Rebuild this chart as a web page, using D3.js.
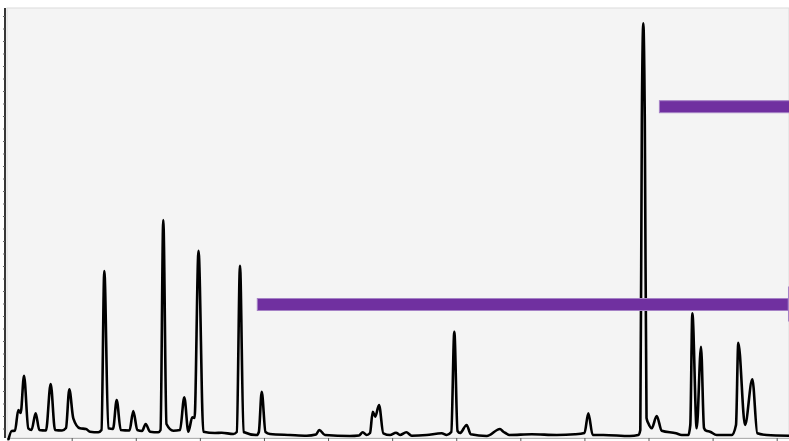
<!DOCTYPE html>
<html>
<head>
<meta charset="utf-8">
<script src="https://cdn.jsdelivr.net/npm/d3@7"></script>
<style>
  body { margin: 0; background: #fff; }
  svg { display: block; }
</style>
</head>
<body>
<div id="chart"></div>
<script>
// Data (retention time in min, detector signal)
const times = [
  0.011, 0.064, 0.115, 0.167, 0.204, 0.256, 0.323, 0.373, 0.438, 0.495,
  0.599, 0.672, 0.740, 0.849, 0.911, 0.963, 1.025, 1.130, 1.223, 1.286,
  1.415, 1.465, 1.509, 1.571, 1.645, 1.702, 1.765, 1.902, 1.961, 2.024,
  2.097, 2.155, 2.222, 2.351, 2.386, 2.429, 2.479, 2.585, 2.690, 2.757,
  2.820, 2.882, 2.917, 2.979, 3.054, 3.236, 3.341, 3.522, 3.576, 3.626,
  3.681, 3.887, 3.920, 3.965, 4.024, 4.094, 4.406, 4.667, 4.812, 4.863,
  4.952, 5.342, 5.483, 5.541, 5.603, 5.655, 5.697, 5.737, 5.795, 5.862,
  5.967, 6.060, 6.123, 6.221, 6.305, 6.539, 6.773, 6.851, 6.923, 6.970,
  7.020, 7.059, 7.163, 7.226, 7.476, 7.683, 7.730, 7.777, 7.828, 8.178,
  8.568, 8.853, 9.001, 9.061, 9.129, 9.295, 9.711, 9.841, 9.872, 9.896,
  9.919, 9.942, 9.969, 9.997, 10.050, 10.128, 10.206, 10.429, 10.518, 10.621,
  10.652, 10.684, 10.752, 10.819, 10.866, 10.897, 10.960, 11.064, 11.298, 11.365,
  11.401, 11.506, 11.620, 11.698, 11.845, 12.192
];
const signal = [
  1, 10, 10.3, 31, 28, 65.3, 12.7, 11, 27.7, 11,
  10.5, 57, 11, 10.5, 13, 51.7, 22.7, 12.7, 12, 9.3,
  8.7, 11, 170, 12.7, 12, 41, 11, 10.5, 30, 11,
  10, 17, 9.3, 8.7, 11, 221, 17, 10.3, 11, 43.7,
  9.3, 23.7, 23, 190.3, 9.3, 8, 8.3, 7, 9, 175.3,
  9, 6, 9, 49.3, 9, 7, 6, 5.3, 6.5, 11,
  6, 5, 5.5, 8.7, 6, 8, 29.3, 24.3, 36, 7.7,
  6, 8.3, 6, 8.7, 5.3, 6, 7.7, 6, 9, 109.3,
  10, 8, 16, 6.7, 5, 12, 9.5, 7.7, 6, 6.7,
  6, 6.7, 8, 27.7, 6, 6, 5, 6, 11, 321,
  417.7, 321, 23, 17.7, 12.7, 25, 10.3, 7.7, 6, 6,
  16, 127.7, 12.7, 94.3, 13, 10.3, 9.3, 6, 6, 16,
  98.3, 16, 61.7, 7.7, 6, 5.3
];

// collected fraction windows
const fracStart = [10.17, 3.896];
const fracEnd   = [12.40, 12.18];
const fracLevel = [334.3, 136.5];

const xTicks = d3.range(0, 13);
const yTicks = d3.range(1, 35).map(k => k * 12.5);

const W = 789, H = 441;
const plot = { left: 7, top: 8, right: 789, bottom: 438 };

const x = d3.scaleLinear().domain([0, 12.192]).range([7.6, 789]);
const y = d3.scaleLinear().domain([0, 433]).range([441, 8]);

const svg = d3.select("#chart").append("svg")
    .attr("width", W)
    .attr("height", H);

// plot background
svg.append("rect")
    .attr("x", plot.left)
    .attr("y", plot.top)
    .attr("width", plot.right - plot.left)
    .attr("height", plot.bottom - plot.top)
    .attr("fill", "#f4f4f4")
    .attr("stroke", "#dcdcdc")
    .attr("stroke-width", 1);

// bottom axis
const xAxis = d3.axisBottom(x).tickValues(xTicks).tickSize(3).tickFormat("");
const gx = svg.append("g")
    .attr("transform", "translate(0," + plot.bottom + ")")
    .call(xAxis);
gx.select(".domain").attr("stroke", "#b0b0b0").attr("d", "M" + plot.left + ",0.5H" + plot.right);
gx.selectAll(".tick line").attr("stroke", "#555");

// left axis
const yAxis = d3.axisLeft(y).tickValues(yTicks).tickSize(2).tickFormat("");
const gy = svg.append("g")
    .attr("transform", "translate(5,0)")
    .call(yAxis);
gy.select(".domain").attr("stroke", "#222").attr("stroke-width", 1.8)
    .attr("d", "M0," + plot.top + "V" + plot.bottom);
gy.selectAll(".tick line").attr("stroke", "#666");

const clip = svg.append("clipPath").attr("id", "clip")
  .append("rect")
    .attr("x", plot.left).attr("y", 0)
    .attr("width", plot.right - plot.left).attr("height", H);

const pts = times.map((t, i) => [t, signal[i]]);

const line = d3.line()
    .x(d => x(d[0]))
    .y(d => y(d[1]))
    .curve(d3.curveMonotoneX);

svg.append("path")
    .datum(pts)
    .attr("clip-path", "url(#clip)")
    .attr("fill", "none")
    .attr("stroke", "#000")
    .attr("stroke-width", 2.6)
    .attr("stroke-linejoin", "round")
    .attr("d", line);

// fraction bars
const fracs = fracStart.map((s, i) => ({ s: s, e: fracEnd[i], v: fracLevel[i] }));
const fg = svg.append("g").attr("clip-path", "url(#clip)");
fg.selectAll("rect.frac")
    .data(fracs)
    .enter().append("rect")
    .attr("class", "frac")
    .attr("x", d => x(d.s))
    .attr("y", d => y(d.v) - 6)
    .attr("width", d => x(d.e) - x(d.s))
    .attr("height", 12)
    .attr("fill", "#7030a0")
    .attr("stroke", "#a682c6")
    .attr("stroke-width", 1);

fg.selectAll("line.cap")
    .data(fracs.filter(d => x(d.e) < plot.right))
    .enter().append("line")
    .attr("class", "cap")
    .attr("x1", d => x(d.e) + 0.5)
    .attr("x2", d => x(d.e) + 0.5)
    .attr("y1", d => y(d.v) - 18)
    .attr("y2", d => y(d.v) + 17)
    .attr("stroke", "#a682c6")
    .attr("stroke-width", 1.5);
</script>
</body>
</html>
